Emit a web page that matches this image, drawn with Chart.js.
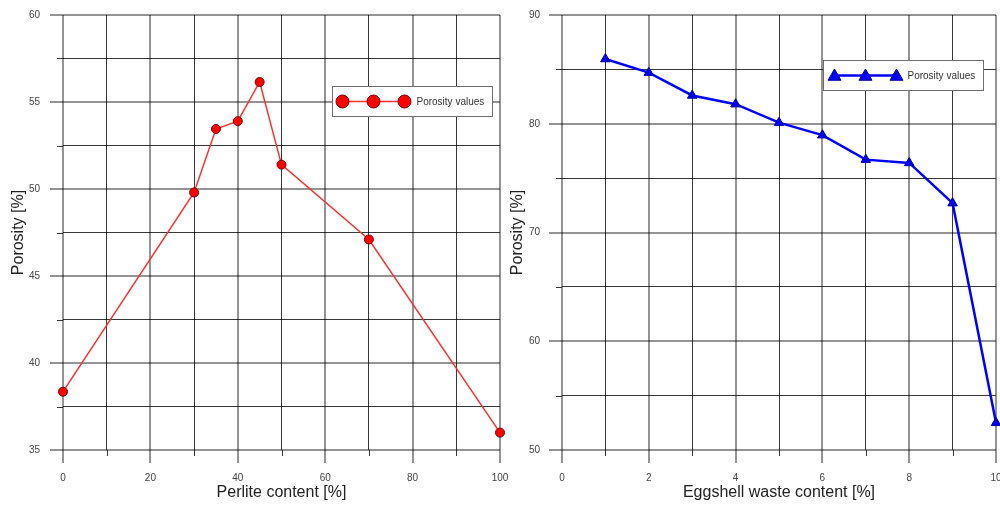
<!DOCTYPE html>
<html>
<head>
<meta charset="utf-8">
<script src="https://cdn.jsdelivr.net/npm/chart.js@4.4.0/dist/chart.umd.min.js"></script>
<style>
  html, body { margin: 0; padding: 0; background: #fff; }
  #wrap { position: relative; width: 1000px; height: 505px; overflow: hidden; }
  canvas { position: absolute; top: 0; }
  #perlite { left: 0; }
  #eggshell { left: 505px; }
</style>
</head>
<body>
<div id="wrap">
  <canvas id="perlite" width="515" height="505"></canvas>
  <canvas id="eggshell" width="505" height="505"></canvas>
</div>
<script>
// data
const perliteContent = [0, 30, 35, 40, 45, 50, 70, 100];
const perlitePorosity = [38.35, 49.8, 53.45, 53.9, 56.15, 51.4, 47.1, 36.0];

const eggshellContent = [1, 2, 3, 4, 5, 6, 7, 8, 9, 10];
const eggshellPorosity = [85.95, 84.7, 82.6, 81.8, 80.1, 78.95, 76.7, 76.4, 72.7, 52.5];

const seriesLabel = 'Porosity values';

const FONT = '"Liberation Sans", Arial, sans-serif';
const MAJOR_COLOR = 'rgba(0,0,0,0.42)';
const MINOR_COLOR = 'rgba(0,0,0,0.78)';

const isMajor = (v, step) => Math.abs(v / step - Math.round(v / step)) < 1e-6;

function align(p, w) {
  const r = Math.round(p);
  return w % 2 ? r + 0.5 : r;
}

// outside tick marks: long for labelled ticks, short for the others
const tickMarks = {
  id: 'tickMarks',
  afterDraw(chart, args, opts) {
    const { ctx, chartArea, scales } = chart;
    ctx.save();
    [scales.x, scales.y].forEach(s => {
      const step = s.axis === 'x' ? opts.xMajor : opts.yMajor;
      s.ticks.forEach(t => {
        const major = isMajor(t.value, step);
        const len = major ? 13 : 6;
        const w = major ? 2 : 1;
        const p = align(s.getPixelForValue(t.value), w);
        ctx.strokeStyle = major ? MAJOR_COLOR : MINOR_COLOR;
        ctx.lineWidth = w;
        ctx.beginPath();
        if (s.axis === 'x') {
          ctx.moveTo(p, chartArea.bottom);
          ctx.lineTo(p, chartArea.bottom + len);
        } else {
          ctx.moveTo(chartArea.left - len, p);
          ctx.lineTo(chartArea.left, p);
        }
        ctx.stroke();
      });
    });
    ctx.restore();
  }
};

function marker(ctx, style, r, x, y, bw) {
  if (Chart.helpers && Chart.helpers.drawPoint) {
    Chart.helpers.drawPoint(ctx, { pointStyle: style, rotation: 0, radius: r, borderWidth: bw }, x, y);
    return;
  }
  ctx.beginPath();
  if (style === 'triangle') {
    ctx.moveTo(x, y - r);
    ctx.lineTo(x + r * 0.866, y + r / 2);
    ctx.lineTo(x - r * 0.866, y + r / 2);
    ctx.closePath();
  } else {
    ctx.arc(x, y, r, 0, Math.PI * 2);
  }
  ctx.fill();
  ctx.stroke();
}

// boxed legend inside the plot, three markers joined by the line
const boxLegend = {
  id: 'boxLegend',
  afterDraw(chart, args, o) {
    const { ctx, chartArea } = chart;
    const ds = chart.data.datasets[0];
    const x = Math.round(chartArea.left + o.dx) + 0.5;
    const y = Math.round(chartArea.top + o.dy) + 0.5;
    ctx.save();
    ctx.fillStyle = '#fff';
    ctx.strokeStyle = '#6e6e6e';
    ctx.lineWidth = 1;
    ctx.fillRect(x, y, o.w, o.h);
    ctx.strokeRect(x, y, o.w, o.h);
    const cy = y + o.h / 2;
    ctx.strokeStyle = ds.borderColor;
    ctx.lineWidth = ds.borderWidth;
    ctx.beginPath();
    ctx.moveTo(x + o.marks[0], cy);
    ctx.lineTo(x + o.marks[2], cy);
    ctx.stroke();
    ctx.fillStyle = ds.pointBackgroundColor;
    ctx.strokeStyle = ds.pointBorderColor;
    ctx.lineWidth = ds.pointBorderWidth;
    o.marks.forEach(dx => marker(ctx, ds.pointStyle, o.r, x + dx, cy + (o.dyMark || 0), ds.pointBorderWidth));
    ctx.fillStyle = '#333';
    ctx.font = '10px ' + FONT;
    ctx.textBaseline = 'middle';
    ctx.fillText(ds.label, x + o.textX, cy + 0.5);
    ctx.restore();
  }
};

function makeScales(cfg) {
  const grid = step => ({
    drawTicks: false,
    color: c => isMajor(c.tick.value, step) ? MAJOR_COLOR : MINOR_COLOR,
    lineWidth: c => isMajor(c.tick.value, step) ? 2 : 1
  });
  return {
    x: {
      type: 'linear',
      min: cfg.xMin, max: cfg.xMax,
      border: { display: false },
      grid: grid(cfg.xMajor),
      ticks: {
        stepSize: cfg.xStep, autoSkip: false, maxRotation: 0, padding: 22,
        color: '#444', font: { family: FONT, size: 10 },
        callback: v => isMajor(v, cfg.xMajor) ? String(v) : ''
      },
      title: {
        display: true, text: cfg.xTitle, color: '#222',
        font: { family: FONT, size: 16 }, padding: { top: 0, bottom: 3 }
      },
      afterFit: s => { s.height = 55; s.paddingLeft = 0; s.paddingRight = 0; }
    },
    y: {
      type: 'linear',
      min: cfg.yMin, max: cfg.yMax,
      border: { display: false },
      grid: grid(cfg.yMajor),
      ticks: {
        stepSize: cfg.yStep, autoSkip: false, padding: cfg.yPad,
        color: '#444', font: { family: FONT, size: 10 },
        callback: v => isMajor(v, cfg.yMajor) ? String(v) : ''
      },
      title: {
        display: true, text: 'Porosity [%]', color: '#222',
        font: { family: FONT, size: 16 }, padding: { top: cfg.titlePad, bottom: 0 }
      },
      afterFit: s => { s.width = cfg.yWidth; s.paddingTop = 0; s.paddingBottom = 0; }
    }
  };
}

new Chart(document.getElementById('perlite'), {
  type: 'scatter',
  data: {
    datasets: [{
      label: seriesLabel,
      data: perliteContent.map((x, i) => ({ x, y: perlitePorosity[i] })),
      showLine: true,
      borderColor: '#ff3030',
      borderWidth: 1.5,
      pointStyle: 'circle',
      pointRadius: 4.5,
      pointBackgroundColor: '#ff0000',
      pointBorderColor: '#7a0000',
      pointBorderWidth: 1,
      clip: false
    }]
  },
  options: {
    responsive: false,
    animation: false,
    devicePixelRatio: 1,
    layout: { padding: { top: 15, right: 15, left: 0, bottom: 0 } },
    scales: makeScales({
      xMin: 0, xMax: 100, xStep: 10, xMajor: 20, xTitle: 'Perlite content [%]',
      yMin: 35, yMax: 60, yStep: 2.5, yMajor: 5, yPad: 23, yWidth: 63, titlePad: 9
    }),
    plugins: {
      legend: { display: false },
      tooltip: { enabled: false },
      tickMarks: { xMajor: 20, yMajor: 5 },
      boxLegend: { dx: 269, dy: 71, w: 160, h: 30, r: 6.5, marks: [10, 41, 72], textX: 84 }
    }
  },
  plugins: [tickMarks, boxLegend]
});

new Chart(document.getElementById('eggshell'), {
  type: 'scatter',
  data: {
    datasets: [{
      label: seriesLabel,
      data: eggshellContent.map((x, i) => ({ x, y: eggshellPorosity[i] })),
      showLine: true,
      borderColor: '#0000ff',
      borderWidth: 2.5,
      pointStyle: 'triangle',
      pointRadius: 5.5,
      pointBackgroundColor: '#0000ee',
      pointBorderColor: '#0000aa',
      pointBorderWidth: 1,
      clip: false
    }]
  },
  options: {
    responsive: false,
    animation: false,
    devicePixelRatio: 1,
    layout: { padding: { top: 15, right: 14, left: 0, bottom: 0 } },
    scales: makeScales({
      xMin: 0, xMax: 10, xStep: 1, xMajor: 2, xTitle: 'Eggshell waste content [%]',
      yMin: 50, yMax: 90, yStep: 5, yMajor: 10, yPad: 22, yWidth: 57, titlePad: 3
    }),
    plugins: {
      legend: { display: false },
      tooltip: { enabled: false },
      tickMarks: { xMajor: 2, yMajor: 10 },
      boxLegend: { dx: 261, dy: 45, w: 160, h: 30, r: 7.5, marks: [11, 42, 73], textX: 84, dyMark: 1 }
    }
  },
  plugins: [tickMarks, boxLegend]
});
</script>
</body>
</html>
